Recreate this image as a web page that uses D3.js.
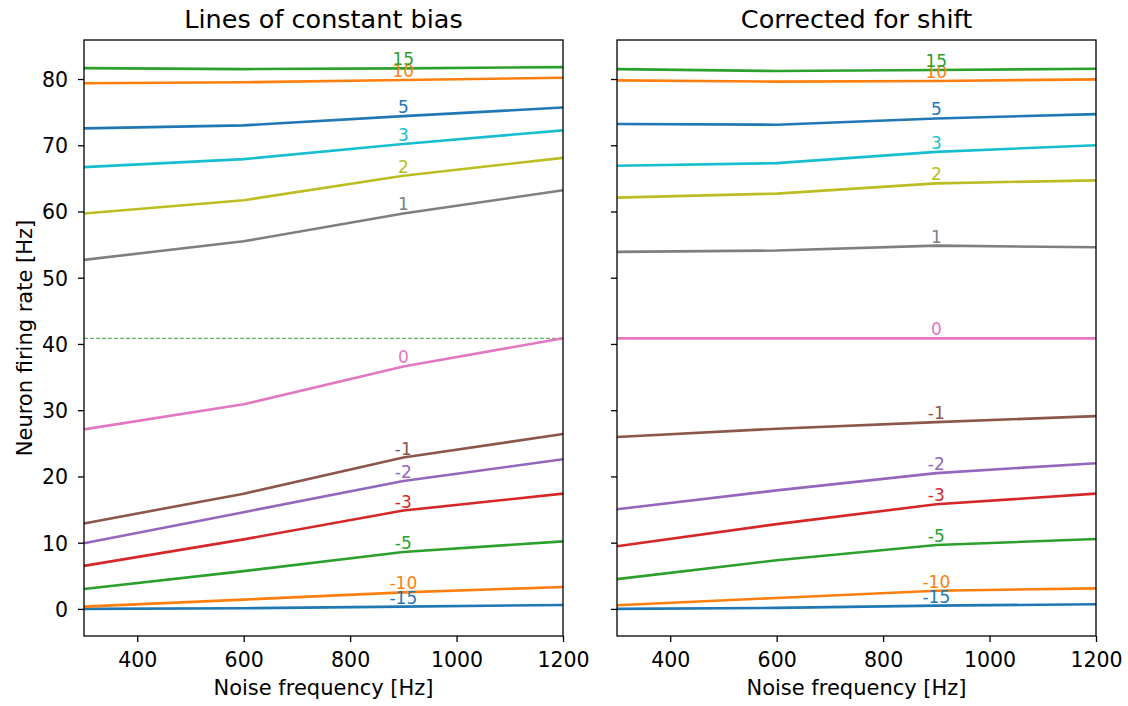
<!DOCTYPE html>
<html>
<head>
<meta charset="utf-8">
<script src="https://cdn.jsdelivr.net/npm/d3@7"></script>
<style>
  body { margin: 0; background: white; }
  svg { display: block; font-family: "DejaVu Sans", sans-serif; }
  .axis path, .axis line { stroke: black; stroke-width: 1.3; }
  .axis text { fill: black; font-size: 20.5px; font-family: "DejaVu Sans", sans-serif; }
</style>
</head>
<body>
<svg id="svg"></svg>
<script>
// noise frequencies sampled (x)
var freqs = [300, 600, 900, 1200];
// bias levels, one line each
var biasLevels = [-15, -10, -5, -3, -2, -1, 0, 1, 2, 3, 5, 10, 15];
var biasColors = ["#1f77b4", "#ff7f0e", "#2ca02c", "#d62728", "#9467bd", "#8c564b",
  "#e377c2", "#7f7f7f", "#bcbd22", "#17becf", "#1f77b4", "#ff7f0e", "#2ca02c"];

// left panel: firing rate per bias level
var rawRates = [
  [0.0, 0.1, 0.35, 0.6],
  [0.35, 1.4, 2.5, 3.3],
  [3.0, 5.7, 8.6, 10.2],
  [6.5, 10.5, 14.85, 17.4],
  [9.9, 14.6, 19.3, 22.6],
  [12.9, 17.4, 22.85, 26.4],
  [27.1, 30.9, 36.6, 40.85],
  [52.7, 55.5, 59.7, 63.2],
  [59.7, 61.7, 65.4, 68.1],
  [66.7, 67.9, 70.2, 72.25],
  [72.55, 73.0, 74.4, 75.7],
  [79.35, 79.5, 79.85, 80.2],
  [81.65, 81.5, 81.6, 81.8]
];

// right panel: corrected for shift
var correctedRates = [
  [0.0, 0.15, 0.5, 0.7],
  [0.55, 1.65, 2.75, 3.1],
  [4.5, 7.35, 9.65, 10.55],
  [9.45, 12.8, 15.8, 17.4],
  [15.05, 17.9, 20.5, 22.0],
  [25.95, 27.2, 28.2, 29.1],
  [40.85, 40.85, 40.85, 40.85],
  [53.9, 54.1, 54.85, 54.6],
  [62.1, 62.7, 64.25, 64.7],
  [66.9, 67.3, 69.0, 70.0],
  [73.2, 73.1, 74.05, 74.7],
  [79.8, 79.6, 79.7, 79.95],
  [81.5, 81.2, 81.35, 81.55]
];

var referenceRate = 40.85;   // dashed line in left panel
var labelFreq = 900;         // where the bias labels sit
var xTicks = [400, 600, 800, 1000, 1200];
var yTicks = [0, 10, 20, 30, 40, 50, 60, 70, 80];
var titles = ["Lines of constant bias", "Corrected for shift"];

var W = 1128, H = 706;
var svg = d3.select("#svg").attr("width", W).attr("height", H);
svg.append("rect").attr("width", W).attr("height", H).attr("fill", "white");

var plotTop = 40, plotBottom = 636;
var panelLefts = [84, 617], panelWidth = 479;

// shared y range with matplotlib-like 5% margins
var all = d3.merge(rawRates.concat(correctedRates));
var ext = d3.extent(all), pad = (ext[1] - ext[0]) * 0.05;
var y = d3.scaleLinear().domain([ext[0] - pad, ext[1] + pad]).range([plotBottom, plotTop]);

function drawPanel(i, rates) {
  var left = panelLefts[i];
  var x = d3.scaleLinear().domain([300, 1200]).range([0, panelWidth]);
  var g = svg.append("g").attr("transform", "translate(" + left + ",0)");

  var line = d3.line()
    .x(function (d, k) { return x(freqs[k]); })
    .y(function (d) { return y(d); });

  if (i === 0) {
    g.append("line")
      .attr("x1", x(300)).attr("x2", x(1200))
      .attr("y1", y(referenceRate)).attr("y2", y(referenceRate))
      .attr("stroke", "#2ca02c").attr("stroke-opacity", 0.75)
      .attr("stroke-width", 1.1).attr("stroke-dasharray", "4,2");
  }

  g.selectAll("path.rate").data(rates).enter()
    .append("path")
    .attr("class", "rate")
    .attr("fill", "none")
    .attr("stroke", function (d, k) { return biasColors[k]; })
    .attr("stroke-width", 2.6)
    .attr("stroke-linejoin", "round")
    .attr("d", line);

  var li = freqs.indexOf(labelFreq);
  g.selectAll("text.lbl").data(rates).enter()
    .append("text")
    .attr("class", "lbl")
    .attr("x", x(labelFreq))
    .attr("y", function (d) { return y(d[li]) - 3; })
    .attr("text-anchor", "middle")
    .attr("font-size", "17px")
    .attr("fill", function (d, k) { return biasColors[k]; })
    .text(function (d, k) { return biasLevels[k]; });

  var xAxis = g.append("g").attr("class", "axis")
    .attr("transform", "translate(0," + plotBottom + ")")
    .call(d3.axisBottom(x).tickValues(xTicks).tickFormat(d3.format("d"))
      .tickSize(6).tickSizeOuter(0).tickPadding(8));
  xAxis.select(".domain").remove();
  xAxis.selectAll("text").attr("dy", null).attr("y", 31);

  var yAxis = g.append("g").attr("class", "axis")
    .call(d3.axisLeft(y).tickValues(yTicks).tickFormat(d3.format("d"))
      .tickSize(6).tickSizeOuter(0).tickPadding(10));
  yAxis.select(".domain").remove();
  if (i === 1) {
    yAxis.selectAll("text").remove();
  } else {
    yAxis.selectAll("text").attr("dy", "0.36em");
  }

  g.append("rect")
    .attr("x", 0).attr("y", plotTop)
    .attr("width", panelWidth).attr("height", plotBottom - plotTop)
    .attr("fill", "none").attr("stroke", "black").attr("stroke-width", 1.3);

  g.append("text")
    .attr("x", panelWidth / 2).attr("y", 27.5)
    .attr("text-anchor", "middle")
    .attr("font-size", "25.5px")
    .text(titles[i]);

  g.append("text")
    .attr("x", panelWidth / 2).attr("y", 695)
    .attr("text-anchor", "middle")
    .attr("font-size", "21px")
    .text("Noise frequency [Hz]");
}

drawPanel(0, rawRates);
drawPanel(1, correctedRates);

svg.append("text")
  .attr("transform", "translate(32," + (plotTop + plotBottom) / 2 + ") rotate(-90)")
  .attr("text-anchor", "middle")
  .attr("font-size", "21px")
  .text("Neuron firing rate [Hz]");
</script>
</body>
</html>
